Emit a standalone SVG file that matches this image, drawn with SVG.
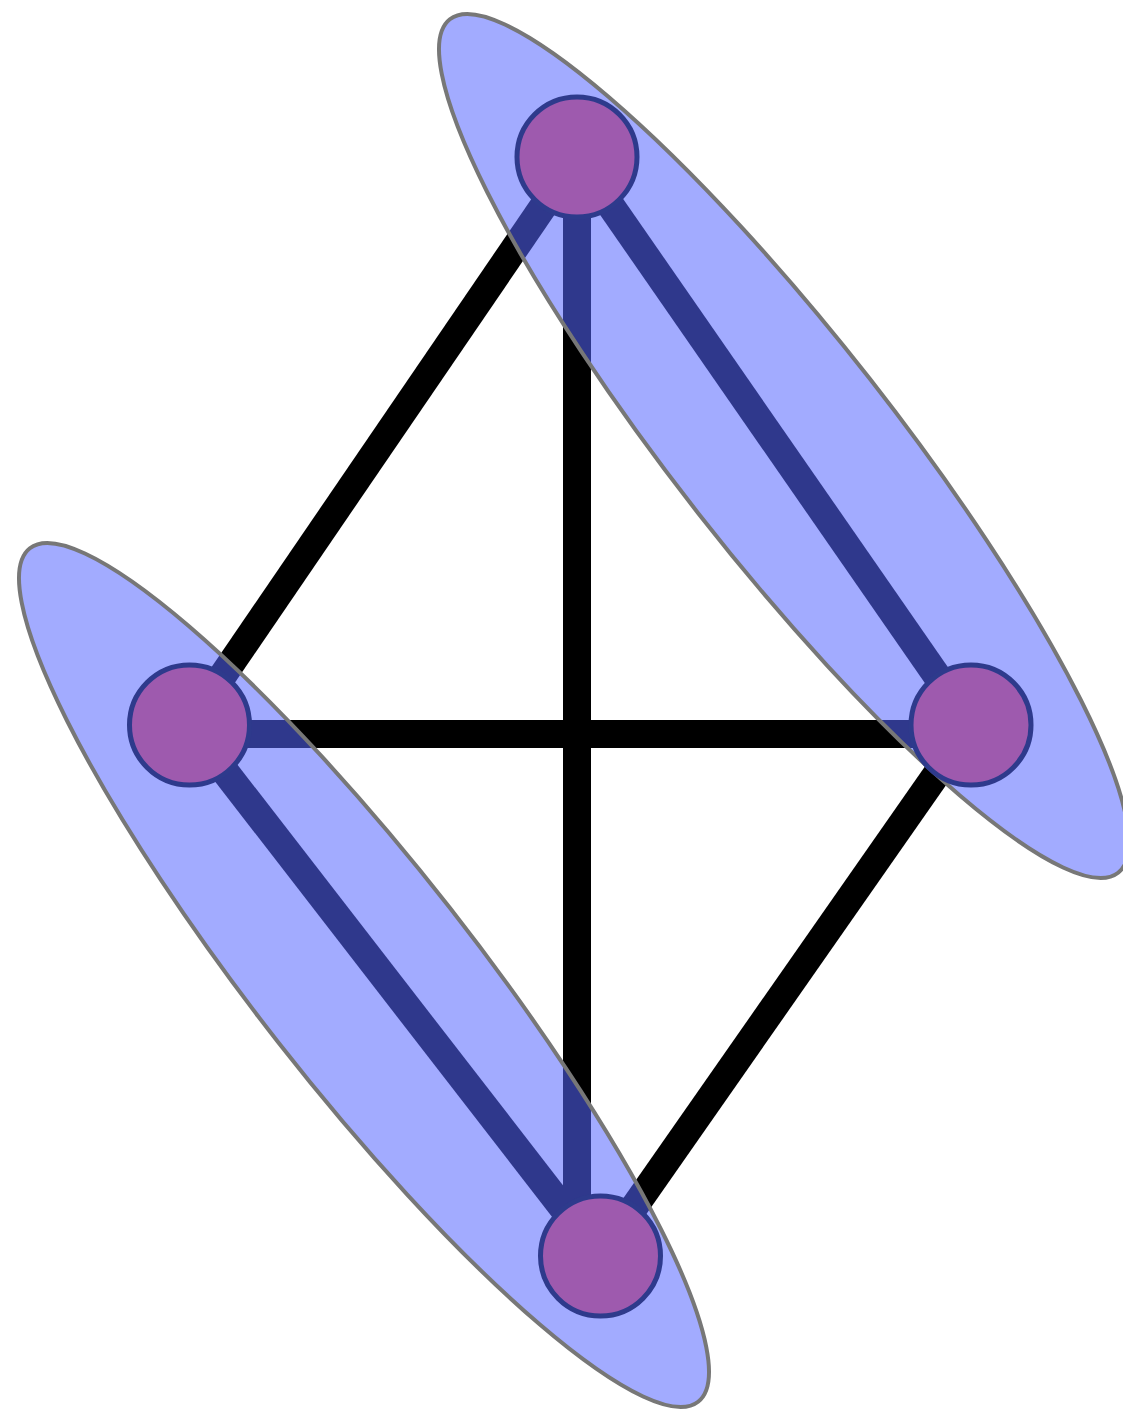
<svg xmlns="http://www.w3.org/2000/svg" width="1123" height="1412" viewBox="0 0 1123 1412">
  <style>
    .edge { stroke: #000000; stroke-width: 28; stroke-linecap: butt; fill: none; }
    .group { fill: #5566ff; fill-opacity: 0.55; stroke: #777777; stroke-width: 4; }
    .node { fill: #9e5aae; stroke: #2e3a8c; stroke-width: 5; }
  </style>
  <rect x="0" y="0" width="1123" height="1412" fill="#ffffff"/>
  <g id="connectors">
    <line class="edge" x1="577" y1="157" x2="189" y2="725"/>
    <line class="edge" x1="577" y1="157" x2="971" y2="725"/>
    <line class="edge" x1="577" y1="157" x2="577" y2="1256"/>
    <line class="edge" x1="189" y1="734" x2="971" y2="734"/>
    <line class="edge" x1="189" y1="725" x2="600" y2="1256"/>
    <line class="edge" x1="971" y1="725" x2="600" y2="1256"/>
  </g>
  <g id="groups">
    <ellipse id="group-top-right" class="group" cx="784" cy="446" rx="542" ry="109" transform="rotate(51.94 784 446)"/>
    <ellipse id="group-left-bottom" class="group" cx="364" cy="975" rx="542" ry="109" transform="rotate(51.94 364 975)"/>
  </g>
  <g id="node-top"><circle class="node" cx="577" cy="157" r="60"/></g>
  <g id="node-left"><circle class="node" cx="189.5" cy="725" r="60"/></g>
  <g id="node-right"><circle class="node" cx="971" cy="725" r="60"/></g>
  <g id="node-bottom"><circle class="node" cx="600.5" cy="1256" r="60"/></g>
</svg>
